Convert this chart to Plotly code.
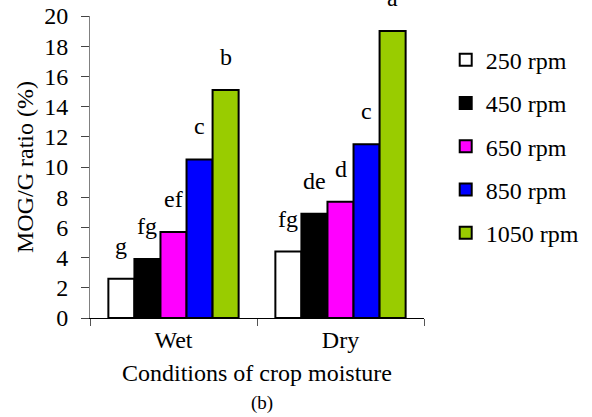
import plotly.graph_objects as go

categories = ["Wet", "Dry"]
series_names = ["250 rpm", "450 rpm", "650 rpm", "850 rpm", "1050 rpm"]
values = {
    "250 rpm": [2.6, 4.4],
    "450 rpm": [3.9, 6.9],
    "650 rpm": [5.7, 7.7],
    "850 rpm": [10.5, 11.5],
    "1050 rpm": [15.1, 19.0],
}
letters = {
    "250 rpm": ["g", "fg"],
    "450 rpm": ["fg", "de"],
    "650 rpm": ["ef", "d"],
    "850 rpm": ["c", "c"],
    "1050 rpm": ["b", "a"],
}
colors = ["#FFFFFF", "#000000", "#FF00FF", "#0000FF", "#99CC00"]
y_ticks = list(range(0, 21, 2))
y_ticklabels = [str(v) for v in y_ticks]

FONT = "Liberation Serif, Times New Roman, serif"
FS = 24
bargap = 0.22
n = len(series_names)

fig = go.Figure()
for i, name in enumerate(series_names):
    fig.add_trace(go.Bar(
        name=name, x=categories, y=values[name],
        marker=dict(color=colors[i], line=dict(color="black", width=2)),
        legendgroup=name,
    ))

# letter annotations placed above each bar
w = (1 - bargap) / n
for i, name in enumerate(series_names):
    off = -(1 - bargap) / 2 + (i + 0.5) * w
    for j, cat in enumerate(categories):
        fig.add_annotation(
            x=j + off, y=values[name][j], text=letters[name][j],
            showarrow=False, yanchor="bottom", yshift=18,
            font=dict(family=FONT, size=FS, color="black"),
        )

fig.add_annotation(
    x=0.515, y=-0.281, xref="paper", yref="paper", text="(b)",
    showarrow=False, yanchor="middle",
    font=dict(family=FONT, size=19, color="black"),
)

fig.update_layout(
    width=592, height=417,
    barmode="group", bargap=bargap, bargroupgap=0,
    paper_bgcolor="white", plot_bgcolor="white",
    margin=dict(l=90, r=168, t=16, b=99, autoexpand=False),
    font=dict(family=FONT, size=FS, color="black"),
    showlegend=True,
    legend=dict(x=1.065, xanchor="left", y=0.928, yanchor="top",
                font=dict(family=FONT, size=FS), tracegroupgap=9,
                bgcolor="rgba(0,0,0,0)"),
    xaxis=dict(
        title=dict(text="Conditions of crop moisture", standoff=12,
                   font=dict(family=FONT, size=FS)),
        showline=True, linecolor="black", linewidth=1,
        ticks="outside", tickson="boundaries", ticklen=7, tickcolor="#555555",
        showgrid=False, tickfont=dict(family=FONT, size=FS),
    ),
    yaxis=dict(
        title=dict(text="MOG/G ratio (%)", standoff=3,
                   font=dict(family=FONT, size=FS)),
        range=[0, 20], tickvals=y_ticks,
        ticktext=[t + "\u00a0\u200a" for t in y_ticklabels],
        showline=True, linecolor="#808080", linewidth=1,
        ticks="outside", ticklen=8, tickcolor="#444444",
        showgrid=False, zeroline=False, tickfont=dict(family=FONT, size=FS),
    ),
)

fig.write_html("out.html", config={"displayModeBar": False},
               post_script="document.body.style.margin='0';")
